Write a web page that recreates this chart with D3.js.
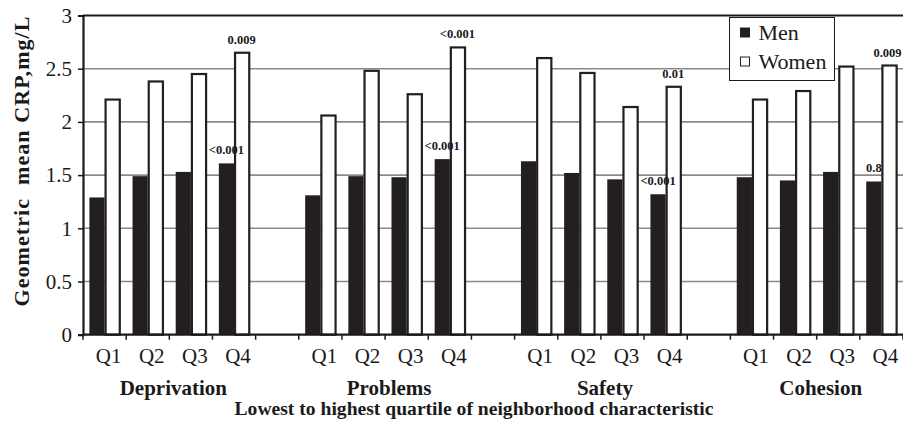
<!DOCTYPE html>
<html><head><meta charset="utf-8">
<script src="https://cdn.jsdelivr.net/npm/d3@7/dist/d3.min.js"></script>
<style>body{margin:0;background:#fff}svg{display:block}</style>
</head><body>
<svg id="c" width="903" height="434"></svg>
<script>
const groups = ["Deprivation", "Problems", "Safety", "Cohesion"];
const quartiles = ["Q1", "Q2", "Q3", "Q4"];
const menValues = [
  [1.29, 1.49, 1.53, 1.61],
  [1.31, 1.49, 1.48, 1.65],
  [1.63, 1.52, 1.46, 1.32],
  [1.48, 1.45, 1.53, 1.44]
];
const womenValues = [
  [2.21, 2.38, 2.45, 2.65],
  [2.06, 2.48, 2.26, 2.70],
  [2.60, 2.46, 2.14, 2.33],
  [2.21, 2.29, 2.52, 2.53]
];
const pMen = ["<0.001", "<0.001", "<0.001", "0.8"];
const pWomen = ["0.009", "<0.001", "0.01", "0.009"];
const yTicks = [0, 0.5, 1, 1.5, 2, 2.5, 3];
const series = ["Men", "Women"];

const svg = d3.select("#c");
const W = 903, L = 83, R = 903, T = 15.5, B = 334.7;
const serif = "Liberation Serif, Times New Roman, serif";

// slots: 4 quartiles per group, blank slot between groups
const slots = [];
groups.forEach((g, gi) => {
  quartiles.forEach(q => slots.push(g + "|" + q));
  if (gi < groups.length - 1) slots.push("blank" + gi);
});
const x = d3.scaleBand().domain(slots).range([L, R]).padding(0);
const xs = d3.scaleBand().domain(series).range([0, x.bandwidth()]).paddingInner(0).paddingOuter(0.42);
const y = d3.scaleLinear().domain([0, 3]).range([B, T]);

// gridlines
svg.append("g").selectAll("line").data(yTicks.filter(t => t > 0 && t < 3)).join("line")
  .attr("x1", L).attr("x2", R).attr("y1", d => y(d)).attr("y2", d => y(d))
  .attr("stroke", "#8a8a8a").attr("stroke-width", 1.6);
// top border
svg.append("line").attr("x1", L).attr("x2", R).attr("y1", y(3)).attr("y2", y(3))
  .attr("stroke", "#1a1a1a").attr("stroke-width", 2.2);

// data
const data = [];
groups.forEach((g, gi) => quartiles.forEach((q, qi) => {
  data.push({ g, gi, q, qi, key: g + "|" + q, s: "Men", v: menValues[gi][qi] });
  data.push({ g, gi, q, qi, key: g + "|" + q, s: "Women", v: womenValues[gi][qi] });
}));

svg.append("g").selectAll("rect").data(data).join("rect")
  .attr("x", d => x(d.key) + xs(d.s) + (d.s === "Women" ? 1 : 0))
  .attr("width", d => xs.bandwidth() - (d.s === "Women" ? 1 : 0))
  .attr("y", d => y(d.v))
  .attr("height", d => y(0) - y(d.v))
  .attr("fill", d => d.s === "Men" ? "#231f20" : "#fff")
  .attr("stroke", d => d.s === "Men" ? "none" : "#231f20")
  .attr("stroke-width", 2.2);

// y axis
const yAxis = svg.append("g").attr("transform", `translate(${L},0)`)
  .call(d3.axisLeft(y).tickValues(yTicks).tickFormat(d3.format("~g")).tickSize(5).tickPadding(6));
yAxis.select(".domain").attr("stroke", "#1a1a1a").attr("stroke-width", 2.2);
yAxis.selectAll(".tick line").attr("stroke", "#1a1a1a").attr("stroke-width", 1.5);
yAxis.selectAll(".tick text").attr("font-family", serif).attr("font-size", 21).attr("fill", "#1a1a1a");

// x axis
const xAxis = svg.append("g").attr("transform", `translate(0,${B})`);
xAxis.append("line").attr("x1", L).attr("x2", R).attr("stroke", "#1a1a1a").attr("stroke-width", 2.2);
const bounds = slots.map(s => x(s)).concat([R]);
xAxis.selectAll("line.tk").data(bounds).join("line").attr("class", "tk")
  .attr("x1", d => d).attr("x2", d => d).attr("y1", 0).attr("y2", 5)
  .attr("stroke", "#1a1a1a").attr("stroke-width", 1.5);
xAxis.selectAll("text.q").data(slots.filter(s => !s.startsWith("blank"))).join("text").attr("class", "q")
  .attr("x", d => x(d) + x.bandwidth() / 2 + 4).attr("y", 28)
  .attr("text-anchor", "middle").attr("font-family", serif).attr("font-size", 21).attr("fill", "#1a1a1a")
  .text(d => d.split("|")[1]);
xAxis.selectAll("text.g").data(groups).join("text").attr("class", "g")
  .attr("x", g => (x(g + "|Q1") + x(g + "|Q4") + x.bandwidth()) / 2 + 4).attr("y", 60)
  .attr("text-anchor", "middle").attr("font-family", serif).attr("font-weight", "bold")
  .attr("font-size", 21).attr("fill", "#1a1a1a").text(g => g);

// axis titles
svg.append("text").attr("x", 474).attr("y", 415)
  .attr("text-anchor", "middle").attr("font-family", serif).attr("font-weight", "bold")
  .attr("font-size", 19.6).attr("fill", "#1a1a1a")
  .text("Lowest to highest quartile of neighborhood characteristic");
svg.append("text").attr("transform", `translate(29,161.5) rotate(-90)`)
  .attr("text-anchor", "middle").attr("font-family", serif).attr("font-weight", "bold")
  .attr("font-size", 22).attr("fill", "#1a1a1a").attr("xml:space", "preserve")
  .attr("textLength", 290).attr("lengthAdjust", "spacing")
  .text("Geometric  mean CRP,mg/L");

// p-value annotations on Q4
const ann = [];
groups.forEach((g, gi) => {
  ann.push({ key: g + "|Q4", s: "Men", v: menValues[gi][3], t: pMen[gi] });
  ann.push({ key: g + "|Q4", s: "Women", v: womenValues[gi][3], t: pWomen[gi] });
});
svg.append("g").selectAll("text").data(ann).join("text")
  .attr("y", d => y(d.v) - 9)
  .attr("text-anchor", "middle").attr("font-family", serif).attr("font-weight", "bold")
  .attr("font-size", 12.5).attr("fill", "#1a1a1a").text(d => d.t)
  .attr("x", function (d) {
    const cx = x(d.key) + xs(d.s) + xs.bandwidth() / 2;
    const w = this.getComputedTextLength();
    return Math.min(cx, W - w / 2 - 1.5);
  });

// legend
const lg = svg.append("g").attr("transform", "translate(729.5,17.5)");
lg.append("rect").attr("width", 105).attr("height", 63).attr("fill", "#fff")
  .attr("stroke", "#1a1a1a").attr("stroke-width", 1);
series.forEach((s, i) => {
  const cy = 15 + i * 29;
  lg.append("rect").attr("x", 11).attr("y", cy - 4.5).attr("width", 9).attr("height", 9)
    .attr("fill", s === "Men" ? "#231f20" : "#fff").attr("stroke", "#231f20").attr("stroke-width", 1);
  lg.append("text").attr("x", 29).attr("y", cy + 7).attr("font-family", serif)
    .attr("font-size", 22).attr("fill", "#1a1a1a").text(s);
});
</script>
</body></html>
